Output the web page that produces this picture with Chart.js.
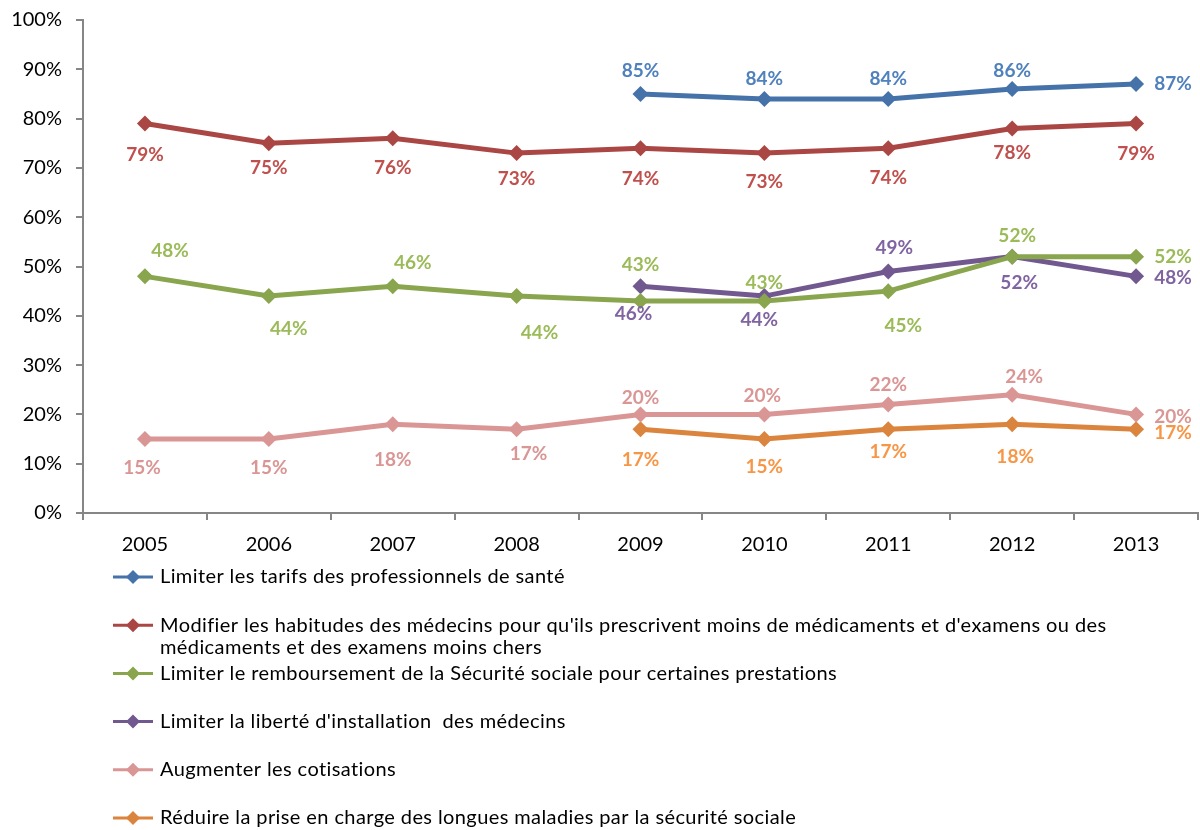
<!DOCTYPE html>
<html>
<head>
<meta charset="utf-8">
<script src="https://cdn.jsdelivr.net/npm/chart.js"></script>
<style>
  html, body { margin: 0; padding: 0; background: #fff; }
  #wrap { width: 1200px; height: 830px; overflow: hidden; }
</style>
</head>
<body>
<div id="wrap"><canvas id="myChart" width="1206" height="830"></canvas></div>
<script>
const annees = ['2005', '2006', '2007', '2008', '2009', '2010', '2011', '2012', '2013'];

const tarifs = [null, null, null, null, 85, 84, 84, 86, 87];
const habitudes = [79, 75, 76, 73, 74, 73, 74, 78, 79];
const remboursement = [48, 44, 46, 44, 43, 43, 45, 52, 52];
const liberte = [null, null, null, null, 46, 44, 49, 52, 48];
const cotisations = [15, 15, 18, 17, 20, 20, 22, 24, 20];
const longuesMaladies = [null, null, null, null, 17, 15, 17, 18, 17];

const yTicks = [0, 10, 20, 30, 40, 50, 60, 70, 80, 90, 100];

const noms = [
    "Limiter les tarifs des professionnels de santé",
    "Modifier les habitudes des médecins pour qu'ils prescrivent moins de médicaments et d'examens ou des médicaments et des examens moins chers",
    "Limiter le remboursement de la Sécurité sociale pour certaines prestations",
    "Limiter la liberté d'installation  des médecins",
    "Augmenter les cotisations",
    "Réduire la prise en charge des longues maladies par la sécurité sociale"
];

// couleur du trait / couleur des étiquettes
const traits = ['#4672aa', '#aa4643', '#89a54e', '#71588f', '#d99694', '#db843d'];
const etiquettes = ['#4f81bd', '#c0504d', '#9bbb59', '#8064a2', '#d99694', '#f79646'];

// décalage des étiquettes [dx, dy] par rapport au point
const decalages = [
    [null, null, null, null, [0, -23], [0, -20], [0, -20], [0, -18], [37, 0]],
    [[0, 31], [0, 25], [0, 30], [0, 26], [0, 31], [0, 29], [0, 30], [0, 24], [0, 30]],
    [[25, -25], [20, 33], [20, -23], [23, 37], [0, -36], [0, -18], [15, 35], [5, -21], [37, 0]],
    [null, null, null, null, [-7, 28], [-5, 24], [6, -24], [7, 26], [37, 2]],
    [[-3, 29], [0, 29], [0, 36], [12, 25], [0, -17], [-2, -19], [0, -20], [12, -18], [37, 2]],
    [null, null, null, null, [0, 31], [0, 28], [0, 23], [3, 33], [37, 4]]
];

const series = [tarifs, habitudes, remboursement, liberte, cotisations, longuesMaladies];
const police = 'Lato, "Open Sans", sans-serif';
const gris = '#868686';

let datasets = series.map((valeurs, i) => ({
    label: noms[i],
    data: valeurs,
    borderColor: traits[i],
    backgroundColor: traits[i],
    borderWidth: 5,
    pointStyle: 'rectRot',
    pointRadius: 8,
    pointHoverRadius: 8,
    pointBorderWidth: 0,
    tension: 0,
    spanGaps: false
}));

const etiquettesPlugin = {
    id: 'etiquettes',
    afterDatasetsDraw(chart) {
        const ctx = chart.ctx;
        ctx.save();
        ctx.font = 'bold 19px ' + police;
        ctx.textAlign = 'center';
        ctx.textBaseline = 'middle';
        chart.data.datasets.forEach((ds, i) => {
            const meta = chart.getDatasetMeta(i);
            ds.data.forEach((v, k) => {
                if (v === null) return;
                const p = meta.data[k];
                const d = decalages[i][k] || [0, -20];
                ctx.fillStyle = etiquettes[i];
                ctx.fillText(v + '%', p.x + d[0], p.y + d[1]);
            });
        });
        ctx.restore();
    }
};

const legendePlugin = {
    id: 'legende',
    afterDraw(chart) {
        const ctx = chart.ctx;
        ctx.save();
        ctx.font = '20px ' + police;
        ctx.letterSpacing = '0.4px';
        ctx.textBaseline = 'middle';
        chart.data.datasets.forEach((ds, i) => {
            const y = 577 + 48.2 * i;
            ctx.strokeStyle = traits[i];
            ctx.lineWidth = 3;
            ctx.beginPath();
            ctx.moveTo(113, y);
            ctx.lineTo(153, y);
            ctx.stroke();
            ctx.fillStyle = traits[i];
            ctx.beginPath();
            ctx.moveTo(133, y - 7);
            ctx.lineTo(140, y);
            ctx.lineTo(133, y + 7);
            ctx.lineTo(126, y);
            ctx.closePath();
            ctx.fill();

            // retour à la ligne si le libellé est trop long
            let mots = ds.label.split(' ');
            let lignes = [];
            let ligne = '';
            mots.forEach(m => {
                let essai = ligne ? ligne + ' ' + m : m;
                if (ctx.measureText(essai).width > 975 && ligne) {
                    lignes.push(ligne);
                    ligne = m;
                } else {
                    ligne = essai;
                }
            });
            lignes.push(ligne);
            ctx.fillStyle = '#000';
            lignes.forEach((l, n) => ctx.fillText(l, 160, y + n * 22));
        });
        ctx.restore();
    }
};

const config = {
    type: 'line',
    data: { labels: annees, datasets: datasets },
    options: {
        responsive: false,
        animation: false,
        devicePixelRatio: 1,
        layout: { padding: { top: 20, left: 0, right: 0, bottom: 0 } },
        plugins: { legend: { display: false }, tooltip: { enabled: false } },
        scales: {
            x: {
                offset: true,
                grid: { display: true, drawOnChartArea: false, offset: true, tickLength: 7, color: gris, lineWidth: 2 },
                border: { display: true, color: gris, width: 2 },
                ticks: { color: '#000', font: { family: police, size: 20 }, padding: 13, maxRotation: 0 },
                afterFit(scale) { scale.height = 317; }
            },
            y: {
                min: 0,
                max: 100,
                afterBuildTicks(scale) { scale.ticks = yTicks.map(v => ({ value: v })); },
                grid: { display: true, drawOnChartArea: false, tickLength: 7, color: gris, lineWidth: 2 },
                border: { display: true, color: gris, width: 2 },
                ticks: { color: '#000', font: { family: police, size: 20 }, padding: 14, callback: v => v + '%' },
                afterFit(scale) {
                    scale.width = 83;
                    scale.paddingTop = 0;
                    scale.paddingBottom = 0;
                }
            }
        }
    },
    plugins: [etiquettesPlugin, legendePlugin]
};

const myChart = new Chart(document.querySelector('#myChart'), config);
</script>
</body>
</html>
